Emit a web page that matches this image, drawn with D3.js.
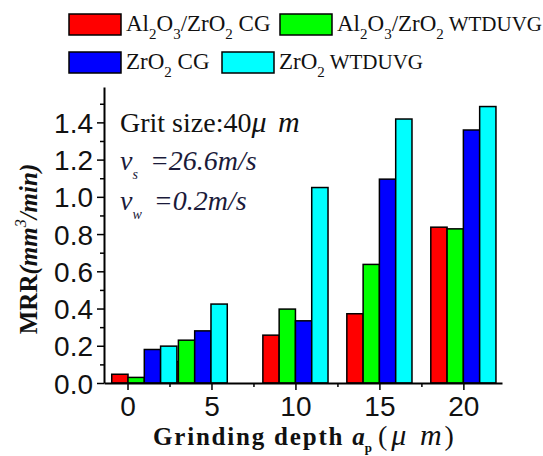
<!DOCTYPE html>
<html>
<head>
<meta charset="utf-8">
<script src="https://cdn.jsdelivr.net/npm/d3@7"></script>
<style>
  body { margin: 0; background: #fff; }
  svg { display: block; }
</style>
</head>
<body>
<div id="chart"></div>
<script>
// grinding depth groups (as plotted)
const depths = [1, 4, 10, 15, 20];
const seriesNames = ["Al2O3/ZrO2 CG", "Al2O3/ZrO2 WTDUVG", "ZrO2 CG", "ZrO2 WTDUVG"];
const colors = ["#ff0000", "#00ff00", "#0000ff", "#00ffff"];
const alCG = [0.047, 0.115, 0.257, 0.372, 0.837];
const alWT = [0.03, 0.23, 0.397, 0.637, 0.828];
const zrCG = [0.18, 0.28, 0.334, 1.095, 1.359];
const zrWT = [0.198, 0.424, 1.05, 1.418, 1.485];
const xTicks = [0, 5, 10, 15, 20];
const xMinor = [2.5, 7.5, 12.5, 17.5];
const yTicks = [0, 0.2, 0.4, 0.6, 0.8, 1.0, 1.2, 1.4];
const yMinor = [0.1, 0.3, 0.5, 0.7, 0.9, 1.1, 1.3, 1.5];

const allSeries = [alCG, alWT, zrCG, zrWT];

const W = 543, H = 456;
const margin = {top: 87, right: 41, bottom: 73, left: 104};
const width = W - margin.left - margin.right,
      height = H - margin.top - margin.bottom;

const svg = d3.select("#chart").append("svg")
  .attr("width", W).attr("height", H);

const g = svg.append("g")
  .attr("transform", "translate(" + margin.left + "," + margin.top + ")");

const x = d3.scaleLinear().domain([-1.4, 22.3]).range([0, width]);
const y = d3.scaleLinear().domain([0, 1.59]).range([height, 0]);

const bw = 0.97; // bar width in x units

// bars, series by series
allSeries.forEach((vals, si) => {
  g.selectAll(".bar" + si)
    .data(vals)
    .enter()
    .append("rect")
    .attr("x", (d, i) => x(depths[i] + (si - 2) * bw))
    .attr("y", d => y(d))
    .attr("width", x(bw) - x(0))
    .attr("height", d => y(0) - y(d))
    .attr("fill", colors[si])
    .attr("stroke", "#000")
    .attr("stroke-width", 1.5);
});

const sans = "Liberation Sans, Arial, sans-serif";
const serif = "Liberation Serif, Times New Roman, serif";

// x axis (minor ticks in their own group)
g.append("g").attr("transform", "translate(0," + height + ")")
  .call(d3.axisBottom(x).tickValues(xMinor).tickSize(4).tickSizeOuter(0).tickFormat(""))
  .call(a => a.select(".domain").remove())
  .selectAll("line").attr("stroke-width", 1.5);

const xAxis = g.append("g").attr("transform", "translate(0," + height + ")")
  .call(d3.axisBottom(x).tickValues(xTicks).tickSize(7).tickSizeOuter(0).tickFormat(d3.format("d")));
xAxis.select(".domain").attr("stroke-width", 2);
xAxis.selectAll(".tick line").attr("stroke-width", 1.5);
xAxis.selectAll("text")
  .attr("font-family", sans)
  .attr("font-size", 28)
  .attr("fill", "#111")
  .attr("dy", 0)
  .attr("y", 33);

// y axis
g.append("g")
  .call(d3.axisLeft(y).tickValues(yMinor).tickSize(4).tickSizeOuter(0).tickFormat(""))
  .call(a => a.select(".domain").remove())
  .selectAll("line").attr("stroke-width", 1.5);

const yAxis = g.append("g")
  .call(d3.axisLeft(y).tickValues(yTicks).tickSize(7).tickSizeOuter(0).tickFormat(d3.format(".1f")));
yAxis.select(".domain").attr("stroke-width", 2);
yAxis.selectAll(".tick line").attr("stroke-width", 1.5);
yAxis.selectAll("text")
  .attr("font-family", sans)
  .attr("font-size", 28)
  .attr("fill", "#111")
  .attr("x", -11)
  .attr("dy", "0.36em");

// y title
const yt = svg.append("text")
  .attr("transform", "translate(37,249) rotate(-90)")
  .attr("text-anchor", "middle")
  .attr("font-family", serif)
  .attr("font-size", 25)
  .attr("font-weight", "bold")
  .attr("fill", "#111");
yt.append("tspan").text("MRR");
yt.append("tspan").attr("font-style", "italic").text("(mm");
yt.append("tspan").attr("font-style", "italic").attr("font-weight", "normal")
  .attr("font-size", 16).attr("dy", -11).text("3");
yt.append("tspan").attr("font-style", "italic").attr("dy", 11).text("/min)");

// x title
const xt = svg.append("text")
  .attr("x", 153).attr("y", 445)
  .attr("font-family", serif)
  .attr("font-size", 25)
  .attr("font-weight", "bold")
  .attr("fill", "#111");
xt.append("tspan").attr("letter-spacing", 1.8).text("Grinding depth ");
xt.append("tspan").attr("font-style", "italic").text("a");
xt.append("tspan").attr("font-size", 13).attr("dy", 7).text("p");
xt.append("tspan").attr("dy", -7).attr("dx", 6).attr("font-weight", "normal").attr("font-size", 28).text("(");
xt.append("tspan").attr("font-style", "italic").attr("font-weight", "normal").attr("dx", 4)
  .attr("font-size", 30).attr("letter-spacing", 3).text("\u03bc m");
xt.append("tspan").attr("font-weight", "normal").attr("font-size", 28).text(")");

// annotation
const a1 = svg.append("text").attr("x", 120).attr("y", 132)
  .attr("font-family", serif).attr("font-size", 28).attr("fill", "#111");
a1.append("tspan").text("Grit size:40");
a1.append("tspan").attr("font-style", "italic").attr("font-size", 30).attr("letter-spacing", 2).text("\u03bc m");

[["s", "=26.6m/s", 170], ["w", "=0.2m/s", 210]].forEach(r => {
  const t = svg.append("text").attr("x", 120).attr("y", r[2])
    .attr("font-family", serif).attr("font-size", 28).attr("font-style", "italic").attr("fill", "#1a1a3a");
  t.append("tspan").text("v");
  t.append("tspan").attr("font-size", 14).attr("dy", 9).text(r[0]);
  t.append("tspan").attr("dy", -9).attr("dx", 12).text(r[1]);
});

// legend
const legendPos = [[69, 14], [280, 14], [69, 52], [222, 52]];
const legendLabels = [
  [["Al", 0], ["2", 1], ["O", 0], ["3", 1], ["/ZrO", 0], ["2", 1], [" CG", 0]],
  [["Al", 0], ["2", 1], ["O", 0], ["3", 1], ["/ZrO", 0], ["2", 1], [" WTDUVG", 0]],
  [["ZrO", 0], ["2", 1], [" CG", 0]],
  [["ZrO", 0], ["2", 1], [" WTDUVG", 0]]
];
seriesNames.forEach((name, i) => {
  const p = legendPos[i];
  svg.append("rect")
    .attr("x", p[0]).attr("y", p[1]).attr("width", 52).attr("height", 21)
    .attr("fill", colors[i]).attr("stroke", "#000").attr("stroke-width", 1.5);
  const t = svg.append("text")
    .attr("x", p[0] + 57).attr("y", p[1] + 17)
    .attr("font-family", serif).attr("font-size", 23).attr("fill", "#111");
  let sub = false;
  legendLabels[i].forEach(part => {
    const ts = t.append("tspan").text(part[0]);
    if (part[0] === " WTDUVG") ts.attr("font-size", 21);
    if (part[1] && !sub) { ts.attr("dy", 8).attr("font-size", 15); sub = true; }
    else if (part[1]) { ts.attr("font-size", 15); }
    else if (sub) { ts.attr("dy", -8); sub = false; }
  });
});
</script>
</body>
</html>
